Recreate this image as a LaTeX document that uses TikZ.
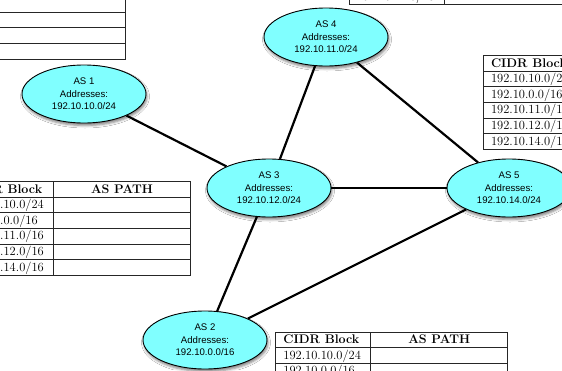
\documentclass[tikz,border=0pt]{standalone}
\usepackage{fontspec}
\newfontfamily\labelfont{Liberation Sans}
\usetikzlibrary{shapes.geometric,shadows.blur,backgrounds}
\definecolor{ascyan}{RGB}{128,255,255}
\tikzset{
  asnode/.style={ellipse, draw=black, line width=0.9pt, fill=ascyan,
    minimum width=124pt, minimum height=58pt, inner sep=0pt, align=center,
    font=\labelfont\fontsize{9.6}{12.5}\selectfont,
    blur shadow={shadow xshift=1pt, shadow yshift=-2.5pt,
      shadow blur radius=2.5pt, shadow opacity=50}},
  link/.style={line width=2.2pt, black},
  tablerule/.style={line width=0.9pt, black!85},
  cell/.style={inner sep=0pt, anchor=base west,
    font=\fontsize{12.5}{15}\selectfont},
}
% routing table: #1 name, #2 left x, #3 top y
\newcommand\routetable[3]{%
  \begin{scope}[shift={(#2,#3)}]
    \draw[tablerule] (0,0) rectangle (232,93.6);
    \foreach \r in {1,...,5} \draw[tablerule] (0,15.6*\r) -- (232,15.6*\r);
    \draw[tablerule] (95,0) -- (95,93.6);
    \node[cell] (#1-head) at (7.5,11.4) {\bfseries CIDR Block};
    \node[cell, anchor=base] (#1-path) at (163.5,11.4) {\bfseries AS PATH};
    \foreach \net/\len [count=\i] in {192.10.10.0/24, 192.10.0.0/16,
        192.10.11.0/16, 192.10.12.0/16, 192.10.14.0/16}
      \node[cell] (#1-row\i) at (7.5,11.4+15.6*\i) {\net/\len};
  \end{scope}}
\begin{document}
\begin{tikzpicture}[x=1pt,y=-1pt]
\useasboundingbox (0,0) rectangle (562,370);
\clip (0,0) rectangle (562,370);

% routing tables
\routetable{t1}{-107}{-34.6}
\routetable{t4}{349.3}{-89.3}
\routetable{t5}{483.3}{55.7}
\routetable{t3}{-41.5}{181.7}
\routetable{t2}{275.7}{332.3}

% autonomous systems
\node[asnode] (as1) at (84,94)  {AS 1\\Addresses:\\192.10.10.0/24};
\node[asnode] (as4) at (326,37) {AS 4\\Addresses:\\192.10.11.0/24};
\node[asnode] (as3) at (269,188) {AS 3\\Addresses:\\192.10.12.0/24};
\node[asnode] (as5) at (509,188) {AS 5\\Addresses:\\192.10.14.0/24};
\node[asnode] (as2) at (205,340) {AS 2\\Addresses:\\192.10.0.0/16};

% peering links
\begin{pgfonlayer}{background}
  \fill[white] (0,0) rectangle (562,370);
  \draw[link] (as1) -- (as3);
  \draw[link] (as4) -- (as3);
  \draw[link] (as4) -- (as5);
  \draw[link] (as3) -- (as5);
  \draw[link] (as3) -- (as2);
  \draw[link] (as2) -- (as5);
\end{pgfonlayer}
\end{tikzpicture}
\end{document}
